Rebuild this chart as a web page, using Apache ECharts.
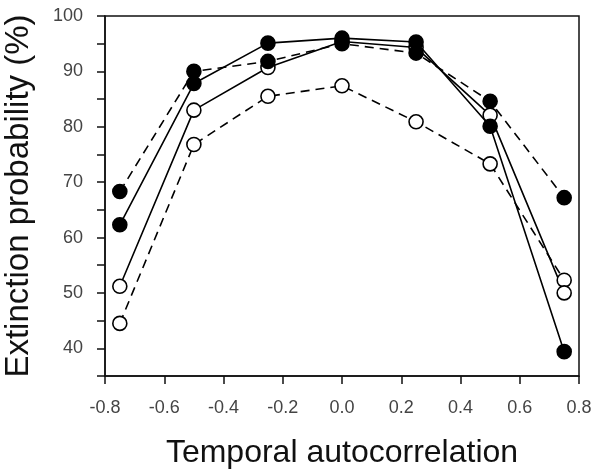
<!DOCTYPE html>
<html>
<head>
<meta charset="utf-8">
<script src="https://cdn.jsdelivr.net/npm/echarts@6/dist/echarts.min.js"></script>
<style>html,body{margin:0;padding:0;background:#fff}#c{width:593px;height:469px}</style>
</head>
<body>
<div id="c"></div>
<script>
var xValues = [-0.75, -0.5, -0.25, 0, 0.25, 0.5, 0.75];
var filledSolid = [62.3, 87.8, 95.1, 96.0, 95.3, 80.1, 39.4];
var filledDashed = [68.3, 90.0, 91.8, 95.0, 93.3, 84.6, 67.2];
var openSolid = [51.2, 83.0, 90.7, 95.4, 94.3, 82.1, 50.0];
var openDashed = [44.5, 76.8, 85.5, 87.4, 80.9, 73.3, 52.3];
var xTicks = [-0.8, -0.6, -0.4, -0.2, 0.0, 0.2, 0.4, 0.6, 0.8];
var yTicks = [40, 50, 60, 70, 80, 90, 100];

function pairs(arr){ return xValues.map(function(x,i){ return [x, arr[i]]; }); }

function mk(name, arr, filled, dashed){
  return {
    name: name, type: 'line', data: pairs(arr),
    symbol: 'circle', symbolSize: 14,
    lineStyle: {color: '#000', width: 1.6, type: dashed ? [9, 6] : 'solid'},
    itemStyle: {color: filled ? '#000' : '#fff', borderColor: '#000', borderWidth: 1.6},
    emphasis: {disabled: true},
    z: filled ? 3 : 2
  };
}

var chart = echarts.init(document.getElementById('c'), null, {renderer: 'canvas'});
chart.setOption({
  animation: false,
  grid: {left: 105, top: 16, right: 14, bottom: 93, containLabel: false, outerBoundsMode: 'none',
    show: true, borderColor: '#111', borderWidth: 1.5, backgroundColor: 'transparent'},
  xAxis: {
    type: 'value', min: -0.8, max: 0.8, interval: 0.2,
    name: 'Temporal autocorrelation', nameLocation: 'middle', nameGap: 61,
    nameTextStyle: {fontFamily: 'Liberation Sans', fontSize: 32, color: '#111'},
    axisLine: {onZero: false, lineStyle: {color: '#111', width: 1.5}},
    axisTick: {show: true, inside: false, length: 8, lineStyle: {color: '#111', width: 1.5}},
    splitLine: {show: false},
    axisLabel: {margin: 23, fontFamily: 'Liberation Sans', fontSize: 18, color: '#444',
      formatter: function(v){
        for (var i = 0; i < xTicks.length; i++) if (Math.abs(xTicks[i] - v) < 1e-6) return xTicks[i].toFixed(1);
        return '';
      }}
  },
  yAxis: {
    type: 'value', min: 35, max: 100, interval: 5,
    name: 'Extinction probability (%)', nameLocation: 'middle', nameGap: 70,
    nameTextStyle: {fontFamily: 'Liberation Sans', fontSize: 33, color: '#111'},
    axisLine: {show: true, onZero: false, lineStyle: {color: '#111', width: 1.5}},
    axisTick: {show: true, inside: false, length: 8, lineStyle: {color: '#111', width: 1.5}},
    splitLine: {show: false},
    axisLabel: {margin: 22, fontFamily: 'Liberation Sans', fontSize: 18, color: '#444',
      formatter: function(v){ return yTicks.indexOf(Math.round(v)) >= 0 && Math.abs(v - Math.round(v)) < 1e-6 ? String(Math.round(v)) : ''; }}
  },
  series: [
    mk('openDashed', openDashed, false, true),
    mk('openSolid', openSolid, false, false),
    mk('filledDashed', filledDashed, true, true),
    mk('filledSolid', filledSolid, true, false)
  ]
});
</script>
</body>
</html>
